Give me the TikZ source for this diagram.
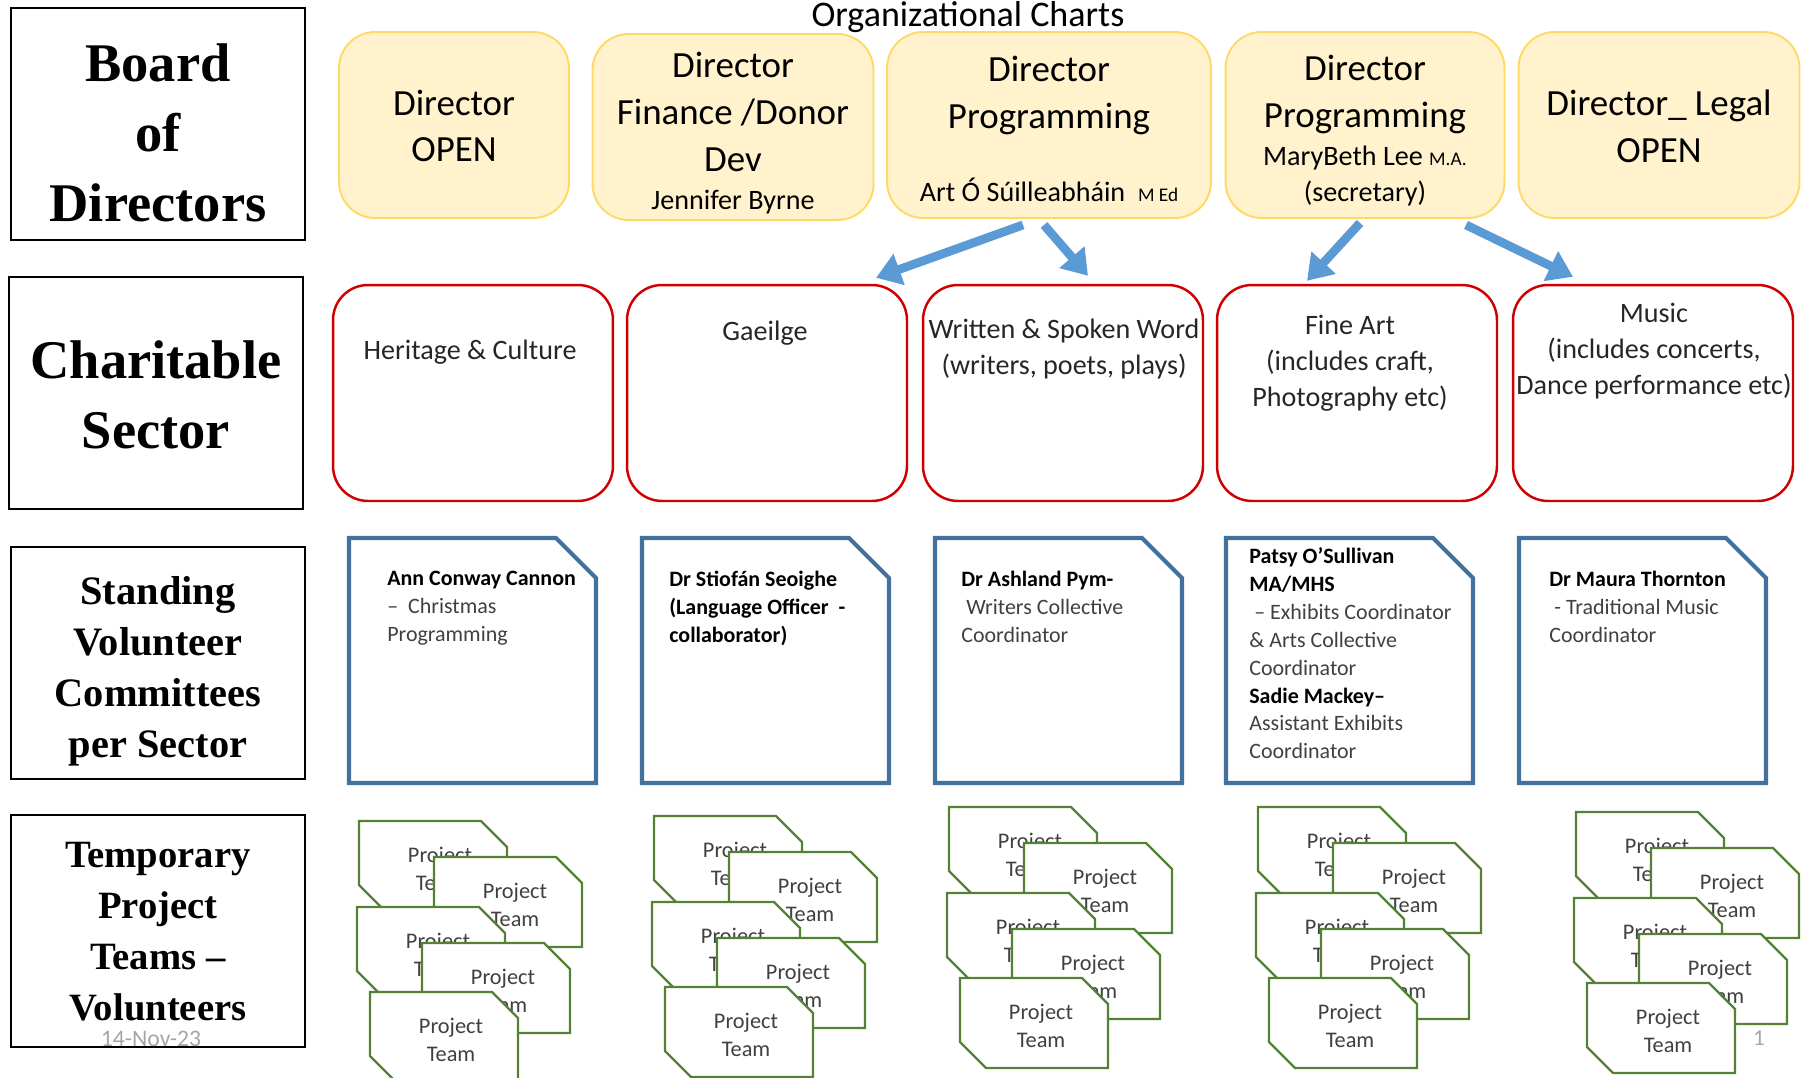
\documentclass[tikz,border=0pt]{standalone}
\usepackage{fontspec}
\setmainfont{Carlito}
\newfontfamily\boardfont{Liberation Serif}
\usetikzlibrary{arrows.meta, calc}
\definecolor{dirfill}{HTML}{FFF2CC}
\definecolor{dirline}{HTML}{FFD966}
\definecolor{secline}{HTML}{D00000}
\definecolor{comline}{HTML}{41719C}
\definecolor{teamline}{HTML}{548235}
\definecolor{arrowblue}{HTML}{5B9BD5}
\definecolor{bodygrey}{HTML}{404040}
\definecolor{dategrey}{HTML}{A6A6A6}
\newcommand{\cname}[1]{\textcolor{black}{\bfseries #1}}

\begin{document}
\begin{tikzpicture}[x=0.02cm, y=-0.02cm]
      \tikzset{tier/.style = {shape=rectangle, draw, line width=1.2pt, minimum width=5.87cm, minimum height=4.64cm}}
      \tikzset{tiertext/.style = {align=center, inner sep=0pt}}
      \tikzset{director/.style = {shape=rectangle, rounded corners=0.72cm, draw=dirline, fill=dirfill, line width=1.1pt, minimum height=3.72cm}}
      \tikzset{directortext/.style = {align=center, inner sep=0pt, font=\fontsize{21}{26.6}\selectfont}}
      \tikzset{sector/.style = {shape=rectangle, rounded corners=0.7cm, draw=secline, line width=1.4pt, minimum width=5.6cm, minimum height=4.32cm}}
      \tikzset{sectortext/.style = {anchor=north, align=center, inner sep=0pt, text=black!85, font=\fontsize{16}{20.4}\selectfont}}
      \tikzset{committee/.style = {draw=comline, line width=2.4pt, line join=miter}}
      \tikzset{committeetext/.style = {anchor=north west, align=left, inner sep=0pt, text=bodygrey, font=\fontsize{12.5}{15.9}\selectfont}}
      \tikzset{team/.style = {draw=teamline, fill=white, line width=1.4pt}}
      \tikzset{teamtext/.style = {align=center, inner sep=0pt, text=bodygrey, font=\fontsize{12.7}{15.9}\selectfont}}
      \tikzset{flow/.style = {draw=arrowblue, line width=5pt, -{Triangle[width=18pt, length=14pt]}}}
      \useasboundingbox (0,0) rectangle (1803,1078);
      % tier labels
      \node[tier] (board) at (158,124) {};
      \node[tier] (charity) at (156,393) {};
      \node[tier] (standing) at (158,663) {};
      \node[tier] (temporary) at (158,931) {};
      \node[tiertext, font=\boardfont\bfseries\fontsize{31}{40}\selectfont] (boardt) at (158,133) {Board\\of\\Directors};
      \node[tiertext, font=\boardfont\bfseries\fontsize{31}{40}\selectfont] (charityt) at (156,395) {Charitable\\Sector};
      \node[tiertext, font=\boardfont\bfseries\fontsize{23}{29}\selectfont] (standingt) at (158,671) {Standing\\Volunteer\\Committees\\per Sector};
      \node[tiertext, font=\boardfont\bfseries\fontsize{22}{29}\selectfont] (temporaryt) at (158,932) {Temporary\\Project\\Teams –\\Volunteers};
      \node[inner sep=0pt, text=dategrey, font=\fontsize{13.5}{15}\selectfont] (date) at (151,1039) {14-Nov-23};
      \node[anchor=base, inner sep=0pt, font=\fontsize{20.5}{24}\selectfont] (title) at (968,27) {Organizational Charts};
      % directors
      \node[director, minimum width=4.6cm] (d1) at (454,125) {};
      \node[director, minimum width=5.62cm] (d2) at (733,127) {};
      \node[director, minimum width=6.48cm] (d3) at (1049,125) {};
      \node[director, minimum width=5.58cm] (d4) at (1365,125) {};
      \node[director, minimum width=5.62cm] (d5) at (1659,125) {};
      \node[directortext] (d1t) at (454,126) {Director\\OPEN};
      \node[directortext] (d2t) at (733,133) {Director\\Finance /Donor\\Dev\\[-5pt]{\fontsize{16}{20}\selectfont Jennifer Byrne}};
      \node[directortext] (d3t) at (1049,129) {Director\\Programming\\[15pt]{\fontsize{16}{20}\selectfont Art Ó Súilleabháin\ \ {\fontsize{11}{13}\selectfont M Ed}}};
      \node[directortext] (d4t) at (1365,131) {Director\\Programming\\[-5pt]{\fontsize{16}{20}\selectfont MaryBeth Lee {\fontsize{11}{13}\selectfont M.A.}}\\[-6pt]{\fontsize{16}{20}\selectfont (secretary)}};
      \node[directortext] (d5t) at (1659,126) {Director\_ Legal\\OPEN};
      % sectors
      \node[sector] (s1) at (473,393) {};
      \node[sector] (s2) at (767,393) {};
      \node[sector] (s3) at (1063,393) {};
      \node[sector] (s4) at (1357,393) {};
      \node[sector] (s5) at (1653,393) {};
      \node[sectortext] (s1t) at (470,340) {Heritage \& Culture};
      \node[sectortext] (s2t) at (765,321) {Gaeilge};
      \node[sectortext] (s3t) at (1064,319) {Written \& Spoken Word\\(writers, poets, plays)};
      \node[sectortext] (s4t) at (1350,315) {Fine Art\\(includes craft,\\Photography etc)};
      \node[sectortext] (s5t) at (1654,303) {Music\\(includes concerts,\\Dance performance etc)};
      \draw[flow] ($(d3.south)+(-26,6)$) -- ($(s2.north)+(109,-6)$);
      \draw[flow] ($(d3.south)+(-5,6)$) -- ($(s3.north)+(25,-8)$);
      \draw[flow] ($(d4.south)+(-5,4)$) -- ($(s4.north)+(-50,-3)$);
      \draw[flow] ($(d4.south)+(101,6)$) -- ($(s5.north)+(-80,-7)$);
      % standing committees
      \draw[committee] (349,538) -- ++(207,0) -- ++(40,40) -- ++(0,205) -- ++(-247,0) -- cycle;
      \draw[committee] (642,538) -- ++(207,0) -- ++(40,40) -- ++(0,205) -- ++(-247,0) -- cycle;
      \draw[committee] (935,538) -- ++(207,0) -- ++(40,40) -- ++(0,205) -- ++(-247,0) -- cycle;
      \draw[committee] (1226,538) -- ++(207,0) -- ++(40,40) -- ++(0,205) -- ++(-247,0) -- cycle;
      \draw[committee] (1519,538) -- ++(207,0) -- ++(40,40) -- ++(0,205) -- ++(-247,0) -- cycle;
      \node[committeetext] (c1t) at (387,571) {\cname{Ann Conway Cannon}\\–\ \ Christmas\\Programming};
      \node[committeetext] (c2t) at (669,571) {\cname{Dr Stiofán Seoighe}\\\cname{(Language Officer\ \ -}\\\cname{collaborator)}};
      \node[committeetext] (c3t) at (961,571) {\cname{Dr Ashland Pym-}\\\ Writers Collective\\Coordinator};
      \node[committeetext] (c4t) at (1249,547) {\cname{Patsy O’Sullivan}\\\cname{MA/MHS}\\\ – Exhibits Coordinator\\\& Arts Collective\\Coordinator\\\cname{Sadie Mackey–}\\Assistant Exhibits\\Coordinator};
      \node[committeetext] (c5t) at (1549,571) {\cname{Dr Maura Thornton}\\\ - Traditional Music\\Coordinator};
      % project teams
      \foreach \sx/\sy [count=\s] in {359/821, 654/816, 949/807, 1258/807, 1576/812}
        \foreach \dx/\dy [count=\k] in {0/0, 75/36, -2/86, 63/122, 11/171} {
          \filldraw[team] (\sx+\dx,\sy+\dy) -- ++(122,0) -- ++(26,26) -- ++(0,64) -- ++(-122,0) -- ++(-26,-26) -- cycle;
          \node[teamtext] (p\s\k) at (\sx+\dx+81,\sy+\dy+48) {Project\\Team};
        }
      \node[inner sep=0pt, text=dategrey, font=\fontsize{13}{15}\selectfont] (page) at (1759,1038) {1};
\end{tikzpicture}
\end{document}
